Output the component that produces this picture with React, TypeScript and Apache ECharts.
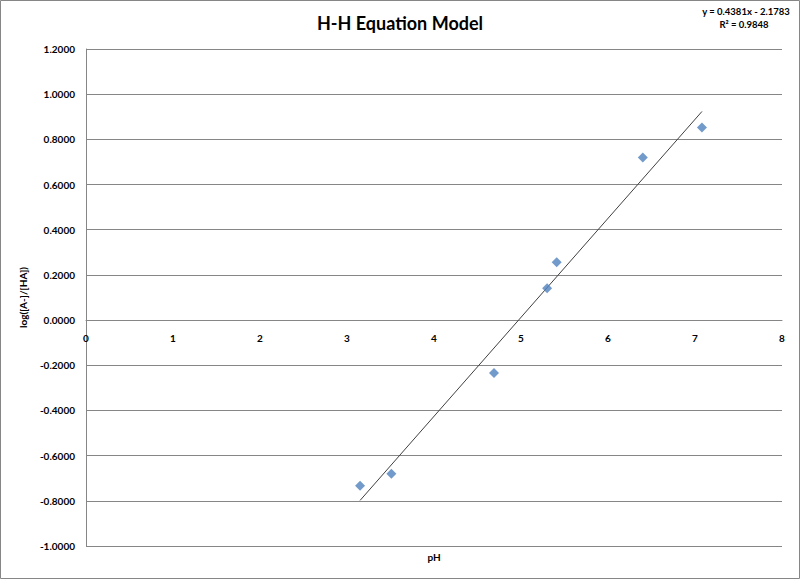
import React, { useEffect, useRef } from "react";
import * as echarts from "echarts";

const phValues = [3.15, 3.51, 4.69, 5.30, 5.41, 6.40, 7.08];
const logRatios = [-0.733, -0.68, -0.234, 0.141, 0.256, 0.72, 0.852];
const trendSlope = 0.4381;
const trendIntercept = -2.1783;
const equationText = "y = 0.4381x - 2.1783";
const r2Text = "R² = 0.9848";

const FONT = "Lato, 'Open Sans', sans-serif";
const Y_MIN = -1;
const Y_MAX = 1.2;

export default function App() {
  const ref = useRef<HTMLDivElement>(null);
  useEffect(() => {
    document.body.style.margin = "0";
    const chart = echarts.init(ref.current!, null, { renderer: "svg" });
    const xMin = Math.min(...phValues);
    const xMax = Math.max(...phValues);
    const trend = [
      [xMin, trendSlope * xMin + trendIntercept],
      [xMax, trendSlope * xMax + trendIntercept],
    ];
    chart.setOption({
      animation: false,
      backgroundColor: "#ffffff",
      title: {
        text: "H-H Equation Model",
        left: "center",
        top: 9,
        textStyle: { fontFamily: FONT, fontWeight: "bold", fontSize: 18, color: "#000" },
      },
      grid: { left: 86, right: 18, top: 49, bottom: 33, containLabel: false },
      xAxis: {
        type: "value",
        min: 0,
        max: 8,
        interval: 1,
        position: "bottom",
        offset: 0,
        axisLine: { show: true, onZero: false, lineStyle: { color: "#868686" } },
        axisTick: { show: false },
        splitLine: { show: false },
        axisLabel: {
          margin: 13,
          fontFamily: FONT,
          fontWeight: "bold",
          fontSize: 10,
          color: "#000",
        },
      },
      yAxis: {
        type: "value",
        min: Y_MIN,
        max: Y_MAX,
        interval: 0.2,
        name: "log([A-]/[HA])",
        nameLocation: "middle",
        nameGap: 58,
        nameTextStyle: { fontFamily: FONT, fontWeight: "bold", fontSize: 10, color: "#000" },
        axisLine: { show: true, onZero: false, lineStyle: { color: "#868686" } },
        axisTick: { show: false },
        splitLine: { show: true, lineStyle: { color: "#868686", width: 1 } },
        axisLabel: {
          margin: 11,
          fontFamily: FONT,
          fontWeight: "bold",
          fontSize: 10,
          color: "#000",
          formatter: (v: number) => v.toFixed(4),
        },
      },
      graphic: [
        {
          type: "rect",
          shape: { x: 0.5, y: 0.5, width: 799, height: 578 },
          style: { fill: "none", stroke: "#868686", lineWidth: 1 },
          silent: true,
        },
        {
          type: "text",
          x: 746,
          y: 11,
          style: {
            text: equationText,
            align: "center",
            verticalAlign: "middle",
            fontFamily: FONT,
            fontWeight: "bold",
            fontSize: 9.5,
            fill: "#000",
          },
        },
        {
          type: "text",
          x: 744,
          y: 24,
          style: {
            text: r2Text,
            align: "center",
            verticalAlign: "middle",
            fontFamily: FONT,
            fontWeight: "bold",
            fontSize: 9.5,
            fill: "#000",
          },
        },
        {
          type: "text",
          x: 434,
          y: 557,
          style: {
            text: "pH",
            align: "center",
            verticalAlign: "middle",
            fontFamily: FONT,
            fontWeight: "bold",
            fontSize: 10,
            fill: "#000",
          },
        },
      ],
      series: [
        {
          type: "line",
          data: trend,
          showSymbol: false,
          symbol: "none",
          lineStyle: { color: "#404040", width: 1 },
          z: 2,
        },
        {
          type: "scatter",
          data: phValues.map((x, i) => [x, logRatios[i]]),
          symbol: "diamond",
          symbolSize: 10,
          itemStyle: { color: "#4F81BD" },
          z: 3,
        },
      ],
    });
    const zeroY = chart.convertToPixel({ yAxisIndex: 0 }, 0) as number;
    const bottomY = chart.convertToPixel({ yAxisIndex: 0 }, Y_MIN) as number;
    chart.setOption({ xAxis: { offset: zeroY - bottomY } });
    return () => chart.dispose();
  }, []);
  return <div ref={ref} style={{ width: 800, height: 579 }} />;
}
